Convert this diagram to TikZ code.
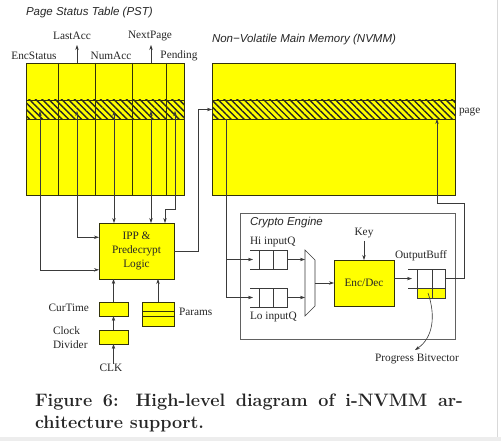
\documentclass[tikz,border=0pt]{standalone}
\usepackage{fontspec}
\usepackage{tikz}
\usetikzlibrary{positioning,arrows.meta,calc,patterns.meta}
\newfontfamily\tmsfont{Liberation Serif}
\newfontfamily\hlvfont{Liberation Sans}
\definecolor{hl}{HTML}{FFFF00}
\definecolor{ink}{HTML}{3A3A3A}
\definecolor{edge}{HTML}{33330A}

\begin{document}
\begin{tikzpicture}[x=1pt, y=-1pt, >={Stealth[length=5pt,width=3.4pt]},
    every node/.style={inner sep=0pt, outer sep=0pt},
    box/.style={draw=edge, fill=hl, anchor=north west, line width=0.7pt},
    band/.style={draw=edge, anchor=north west, line width=0.7pt, preaction={fill=hl},
      pattern={Lines[angle=-45,distance=4.6pt,line width=1.4pt]}, pattern color=black!85},
    lbl/.style={font=\tmsfont\fontsize{11.3}{14}\selectfont, text=black!85},
    ttl/.style={font=\hlvfont\itshape\fontsize{11.5}{13}\selectfont, anchor=west, text=black!85},
    wire/.style={draw=ink, line width=0.6pt}]
    \useasboundingbox (0,0) rectangle (501,441);
    \fill[white] (0,0) rectangle (501,441);
    \fill[black!7] (0,437) rectangle (501,441);
    \draw[black!15, line width=1pt] (497,0) -- (497,437);

    % page status table
    \node[box, minimum width=158pt, minimum height=132pt] (pst) at (26,63) {};
    \node[band, minimum width=158pt, minimum height=19pt] (pstband) at (26,100) {};
    \foreach \cx in {58,95,132,166} \draw[edge, line width=0.7pt] (\cx,63) -- (\cx,195);
    \node[ttl] (psttitle) at (26,13) {Page Status Table (PST)};
    \node[lbl] (encstatus) at (34,56) {EncStatus};
    \node[lbl] (lastacc) at (72,36) {LastAcc};
    \node[lbl] (numacc) at (111,56) {NumAcc};
    \node[lbl] (nextpage) at (150,36) {NextPage};
    \node[lbl] (pending) at (179,56) {Pending};
    \foreach \nm/\tx in {Enc/40,Last/77,Num/114,Next/151,Pend/175}
      \coordinate (tap\nm) at (\tx,111);
    \draw[wire,->] (pst.north -| tapLast) -- ++(0,-18);
    \draw[wire,->] (pst.north -| tapNext) -- ++(0,-18);

    % predecrypt logic
    \node[box, lbl, align=center, minimum width=75pt, minimum height=56pt] (ipp) at (99,223) {IPP \&\\Predecrypt\\Logic};
    \draw[wire,<->] (tapEnc) |- ($(ipp.north west)!0.836!(ipp.south west)$);
    \draw[wire,<->] (tapLast) |- ($(ipp.north west)!0.255!(ipp.south west)$);
    \draw[wire,<->] (tapNum) -- (tapNum |- ipp.north);
    \draw[wire,<->] (tapNext) -- (tapNext |- ipp.north);
    \draw[wire,<->] (tapPend) -- ++(0,98) -| ($(ipp.north west)!0.88!(ipp.north east)$);

    % clock and params
    \node[box, minimum width=29pt, minimum height=14pt] (curtime) at (99,302) {};
    \node[box, minimum width=29pt, minimum height=14pt] (clkdiv) at (99,330) {};
    \node[box, minimum width=32pt, minimum height=24pt] (params) at (142,302) {};
    \foreach \f in {0.375,0.58}
      \draw[edge, line width=0.7pt] ($(params.north west)!\f!(params.south west)$) -- ($(params.north east)!\f!(params.south east)$);
    \node[lbl, anchor=east] (curtimelbl) at (89,307.5) {CurTime};
    \node[lbl, anchor=west, align=left] (clkdivlbl) at (53,338) {Clock\\Divider};
    \node[lbl, anchor=west] (paramslbl) at (179,312) {Params};
    \node[lbl] (clk) at (111,368) {CLK};
    \draw[wire,->] (clk.north -| clkdiv.south) -- (clkdiv.south);
    \draw[wire,->] (clkdiv.north) -- (curtime.south);
    \draw[wire,->] (curtime.north) -- (curtime.north |- ipp.south);
    \draw[wire,->] (params.north) -- (params.north |- ipp.south);

    % main memory
    \node[box, minimum width=243pt, minimum height=132pt] (nvmm) at (212,63) {};
    \node[band, minimum width=243pt, minimum height=19pt] (nvband) at (212,100) {};
    \node[ttl] (nvtitle) at (212,40) {Non−Volatile Main Memory (NVMM)};
    \node[lbl, anchor=west] (pagelbl) at (459,112) {page};
    \draw[wire,->] (ipp.east) -- ++(24,0) |- (nvband.west);
    \coordinate (nvTap) at ($(nvband.south west)+(14,0)$);
    \coordinate (nvRet) at ($(nvband.south west)+(225,0)$);

    % crypto engine
    \node[draw=ink!80, line width=0.7pt, anchor=north west, minimum width=215pt, minimum height=126pt] (crypto) at (240,213) {};
    \node[ttl] (cryptotitle) at (250,223) {Crypto Engine};
    \node[anchor=north west, minimum width=37pt, minimum height=19pt] (hiq) at (250,250) {};
    \node[anchor=north west, minimum width=37pt, minimum height=19pt] (loq) at (250,288) {};
    \foreach \q in {hiq,loq} {
      \draw[wire] (\q.north west) -- (\q.north east) -- (\q.south east) -- (\q.south west);
      \foreach \f in {0.243,0.62}
        \draw[wire] ($(\q.north west)!\f!(\q.north east)$) -- ($(\q.south west)!\f!(\q.south east)$);
    }
    \node[lbl, anchor=west] (hilbl) at (250,242) {Hi inputQ};
    \node[lbl, anchor=west] (lolbl) at (250,317) {Lo inputQ};
    \draw[wire,->] (nvTap) |- ([xshift=3pt]hiq.west);
    \draw[wire,->] (nvTap) |- ([xshift=3pt]loq.west);

    \node[anchor=north west, minimum width=10pt, minimum height=66pt] (mux) at (305,250) {};
    \draw[wire] (mux.north west) -- ($(mux.north east)+(0,10)$) -- ($(mux.south east)+(0,-10)$) -- (mux.south west) -- cycle;
    \draw[wire,->] (hiq.east) -- (hiq.east -| mux.west);
    \draw[wire,->] (loq.east) -- (loq.east -| mux.west);

    \node[box, lbl, minimum width=60pt, minimum height=46pt] (encdec) at (334,260) {Enc/Dec};
    \draw[wire,->] (mux.east) -- (encdec.west);
    \node[lbl] (key) at (364,233) {Key};
    \draw[wire,->] ([yshift=-3pt]key.south) -- (encdec.north);

    \node[anchor=north west, minimum width=37pt, minimum height=29pt] (outbuf) at (408,269) {};
    \node[lbl] (outbuflbl) at (421,256) {OutputBuff};
    \draw[wire, fill=hl] ($(outbuf.north west)!0.655!(outbuf.south west)+(9,0)$) rectangle (outbuf.south east);
    \draw[wire] (outbuf.north west) -- (outbuf.north east) -- (outbuf.south east);
    \draw[wire] ($(outbuf.north west)!0.655!(outbuf.south west)$) -- ($(outbuf.north east)!0.655!(outbuf.south east)$);
    \draw[wire] ($(outbuf.north west)+(9,0)$) -- ($(outbuf.south west)+(9,0)$);
    \draw[wire] ($(outbuf.north west)+(24,0)$) -- ($(outbuf.south west)+(24,0)$);
    \coordinate (obTop) at ($(outbuf.north west)!0.33!(outbuf.south west)$);
    \draw[wire,->] (encdec.east |- obTop) -- ([xshift=4pt]obTop);
    \draw[wire,->] (outbuf.east |- obTop) -| ($(nvmm.south east)+(9,8)$) -| (nvRet);

    \node[lbl] (pbv) at (417,359) {Progress Bitvector};
    \coordinate (pbStart) at (428,293);
    \draw[wire,->] (pbStart) .. controls (436,316) and (433,338) .. ([xshift=-2pt,yshift=4pt]pbv.north);

    % caption
    \node[font=\bfseries\fontsize{18}{21}\selectfont, anchor=west, text=black!85] (cap1) at (35,402)
      {\makebox[428pt][s]{Figure 6: High-level diagram of i-NVMM ar-}};
    \node[font=\bfseries\fontsize{18}{21}\selectfont, anchor=west, text=black!85] (cap2) at (35,424)
      {chitecture support.};
  \end{tikzpicture}
\end{document}
